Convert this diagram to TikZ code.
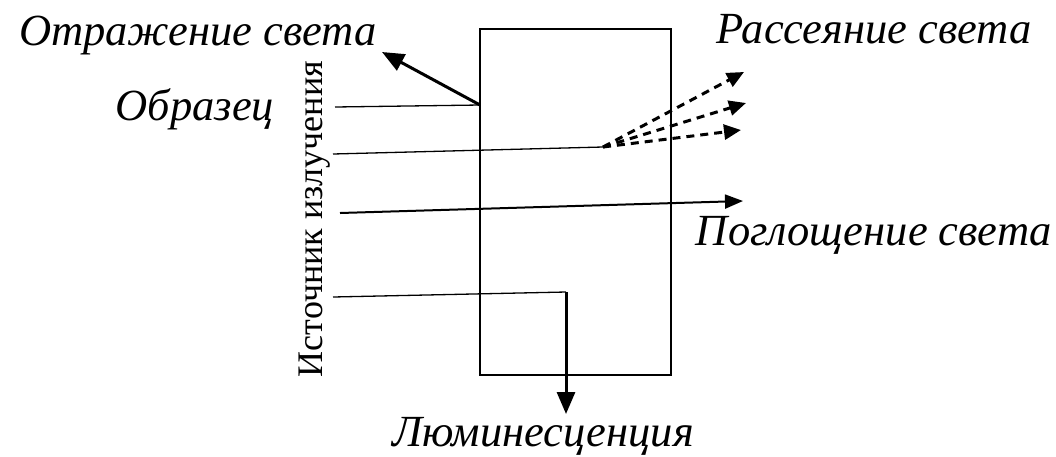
\documentclass[tikz,border=0pt]{standalone}
\usepackage{fontspec}
\setmainfont{Liberation Serif}
\usetikzlibrary{arrows.meta}
\begin{document}
\begin{tikzpicture}[x=1pt,y=-1pt,
  lbl/.style={font=\fontsize{44.5}{48}\selectfont\itshape, inner sep=0pt, anchor=base},
  src/.style={font=\fontsize{36}{40}\selectfont, inner sep=0pt, rotate=90, anchor=base},
  thin/.style={line width=1.3pt},
  thickarr/.style={line width=3pt, -{Triangle[length=22pt,width=18pt]}},
  dasharr/.style={line width=3pt, dash pattern=on 8pt off 6pt, -{Triangle[length=17pt,width=15pt]}},
  absarr/.style={line width=2pt, -{Triangle[length=18pt,width=14pt]}}]
\useasboundingbox (0,0) rectangle (1056,456);
\node[draw, line width=1.3pt, inner sep=0pt, minimum width=191pt, minimum height=346pt] (sample) at (575.5,202) {};
\node[lbl] (refl) at (198,45) {Отражение света};
\node[lbl] (scat) at (874,43) {Рассеяние света};
\node[lbl] (obr) at (195,120) {Образец};
\node[lbl] (abs) at (874,245) {Поглощение света};
\node[lbl] (lum) at (543,446) {Люминесценция};
\node[src] (source) at (322,219) {Источник излучения};
% reflection
\coordinate (r0) at (335,107);
\coordinate (r1) at (480,105);
\coordinate (r2) at (382,52);
\draw[thin] (r0) -- (r1);
\draw[thickarr] (r1) -- (r2);
% scattering
\coordinate (s0) at (333,154);
\coordinate (s1) at (603,147);
\coordinate (s2) at (744,72);
\coordinate (s3) at (746,103);
\coordinate (s4) at (741,130);
\draw[thin] (s0) -- (s1);
\draw[dasharr] (s1) -- (s2);
\draw[dasharr] (s1) -- (s3);
\draw[dasharr] (s1) -- (s4);
% absorption
\coordinate (a0) at (340,213);
\coordinate (a1) at (743,201);
\draw[absarr] (a0) -- (a1);
% luminescence
\coordinate (l0) at (333,297);
\coordinate (l1) at (566,292);
\coordinate (l2) at (566,414);
\draw[thin] (l0) -- (l1);
\draw[thickarr] (l1) -- (l2);
\end{tikzpicture}
\end{document}
